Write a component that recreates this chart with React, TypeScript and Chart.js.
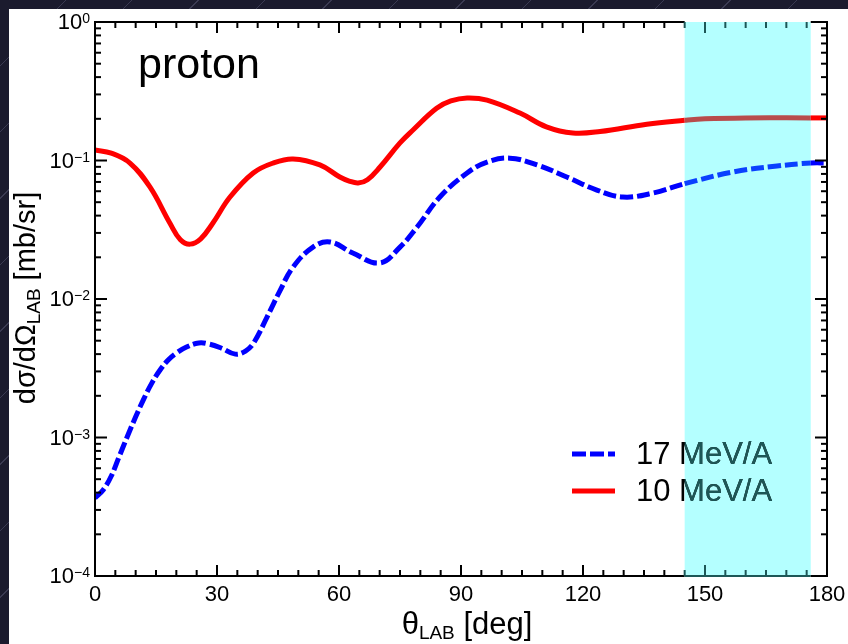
import React, { useEffect, useRef } from 'react';
import { Chart, registerables } from 'chart.js';

Chart.register(...registerables);

// ---- data ----
const angles17 = [0, 2, 4, 6, 8, 10, 12, 14, 16, 18, 20, 22.5, 25.5, 28, 31, 34.5, 37, 39, 42.3, 45.5, 48.7, 53.6, 57.8, 63.4, 70, 75, 79.2, 84.8, 91.5, 96.4, 102, 108.7, 116, 123.4, 129.8, 137.2, 145, 156.9, 167.7, 176, 180];
const sigma17 = [3.66e-4, 4.18e-4, 5.27e-4, 7.35e-4, 1.025e-3, 1.41e-3, 1.9e-3, 2.48e-3, 3.07e-3, 3.63e-3, 4.07e-3, 4.5e-3, 4.81e-3, 4.73e-3, 4.43e-3, 4.0e-3, 4.21e-3, 4.81e-3, 7.4e-3, 0.0115, 0.017, 0.0237, 0.0258, 0.0215, 0.0182, 0.0237, 0.0331, 0.0545, 0.0813, 0.0975, 0.104, 0.0929, 0.076, 0.0612, 0.0545, 0.0582, 0.068, 0.0826, 0.0912, 0.0959, 0.096];

const angles10 = [0, 4, 8.6, 13.5, 18.4, 21, 23.4, 26, 29, 33.2, 38.9, 43.8, 48.7, 55.3, 60.2, 62.5, 64.7, 67, 70.1, 75, 78.2, 84, 87.5, 91.5, 96.4, 104.5, 111, 117.5, 124.2, 135.7, 145, 150, 160, 176, 180];
const sigma10 = [0.119, 0.113, 0.0959, 0.0644, 0.0354, 0.0268, 0.0249, 0.0272, 0.0354, 0.0545, 0.0813, 0.0959, 0.1026, 0.0929, 0.076, 0.0711, 0.0688, 0.0727, 0.0898, 0.134, 0.166, 0.238, 0.269, 0.283, 0.273, 0.22, 0.175, 0.158, 0.162, 0.183, 0.195, 0.2, 0.203, 0.203, 0.203];

const seriesLabels = ['17 MeV/A', '10 MeV/A'];
const bandRange = [145, 176];
const xRange = [0, 180];
const xStep = 30;
const xMinorStep = 5;
const yDecades = [1e-4, 1e-3, 1e-2, 1e-1, 1];
const yExponents = ['−4', '−3', '−2', '−1', '0'];
const panelLabel = 'proton';

// ---- styles ----
const FONT = '"Liberation Sans", Arial, Helvetica, sans-serif';
const RED = '#ff0000';
const RED_IN_BAND = '#b84c4c';
const BLUE = '#0000ff';
const BLUE_IN_BAND = '#0a40ff';
const BAND = '#b4ffff';
const TEAL = '#1d5757';

const inBand = (a: number, b: number) => a >= bandRange[0] - 1e-9 && b <= bandRange[1] + 1e-9;

const bandPlugin = {
  id: 'bandPlugin',
  beforeDatasetsDraw(chart: any) {
    const { ctx, chartArea: a, scales } = chart;
    const x0 = scales.x.getPixelForValue(bandRange[0]);
    const x1 = scales.x.getPixelForValue(bandRange[1]);
    ctx.save();
    ctx.fillStyle = BAND;
    ctx.fillRect(x0, a.top, x1 - x0, a.bottom - a.top);
    ctx.restore();
  },
};

const framePlugin = {
  id: 'framePlugin',
  afterDatasetsDraw(chart: any) {
    const { ctx, chartArea: a, scales } = chart;
    const xs = scales.x;
    const ys = scales.y;
    const bx0 = xs.getPixelForValue(bandRange[0]);
    const bx1 = xs.getPixelForValue(bandRange[1]);
    ctx.save();
    ctx.lineWidth = 2;
    ctx.lineCap = 'butt';
    const line = (x0: number, y0: number, x1: number, y1: number, c: string) => {
      ctx.strokeStyle = c;
      ctx.beginPath();
      ctx.moveTo(x0, y0);
      ctx.lineTo(x1, y1);
      ctx.stroke();
    };
    // frame
    line(a.left, a.top - 1, a.left, a.bottom + 1, '#000');
    line(a.right, a.top - 1, a.right, a.bottom + 1, '#000');
    line(a.left - 1, a.top, bx0, a.top, '#000');
    line(bx1, a.top, a.right + 1, a.top, '#000');
    line(a.left - 1, a.bottom, bx0, a.bottom, '#000');
    line(bx0, a.bottom, bx1, a.bottom, TEAL);
    line(bx1, a.bottom, a.right + 1, a.bottom, '#000');

    // x ticks (top & bottom)
    for (let v = xRange[0] + xMinorStep; v < xRange[1]; v += xMinorStep) {
      const px = xs.getPixelForValue(v);
      const len = v % xStep === 0 ? 11 : 6;
      const c = v >= bandRange[0] && v <= bandRange[1] ? TEAL : '#000';
      line(px, a.bottom, px, a.bottom - len, c);
      line(px, a.top, px, a.top + len, c);
    }
    // y ticks (left & right)
    yDecades.forEach((d, i) => {
      const py = ys.getPixelForValue(d);
      if (i > 0 && i < yDecades.length - 1) {
        line(a.left, py, a.left + 12, py, '#000');
        line(a.right, py, a.right - 12, py, '#000');
      }
      if (i < yDecades.length - 1) {
        for (let m = 2; m <= 9; m++) {
          const pm = ys.getPixelForValue(d * m);
          line(a.left, pm, a.left + 6, pm, '#000');
          line(a.right, pm, a.right - 6, pm, '#000');
        }
      }
    });

    // y tick labels with superscripts
    ctx.fillStyle = '#000';
    yDecades.forEach((d, i) => {
      const py = ys.getPixelForValue(d);
      const xr = a.left - 5;
      ctx.font = `14px ${FONT}`;
      const ws = ctx.measureText(yExponents[i]).width;
      ctx.textAlign = 'left';
      ctx.textBaseline = 'alphabetic';
      ctx.fillText(yExponents[i], xr - ws, py + 1);
      ctx.font = `22px ${FONT}`;
      ctx.textAlign = 'right';
      ctx.textBaseline = 'middle';
      ctx.fillText('10', xr - ws, py + 1);
    });

    // axis titles
    const drawSubTitle = (parts: [string, number, number][], cx: number, cy: number, rot: number) => {
      ctx.save();
      ctx.translate(cx, cy);
      ctx.rotate(rot);
      let total = 0;
      parts.forEach(([t, s]) => {
        ctx.font = `${s}px ${FONT}`;
        total += ctx.measureText(t).width;
      });
      let x = -total / 2;
      ctx.textAlign = 'left';
      ctx.textBaseline = 'alphabetic';
      parts.forEach(([t, s, dy]) => {
        ctx.font = `${s}px ${FONT}`;
        ctx.fillText(t, x, dy);
        x += ctx.measureText(t).width;
      });
      ctx.restore();
    };
    drawSubTitle([['θ', 31, 0], ['LAB', 19, 5], [' [deg]', 31, 0]], (a.left + a.right) / 2 + 6, 625, 0);
    drawSubTitle([['dσ/dΩ', 29, 0], ['LAB', 19, 5], [' [mb/sr]', 29, 0]], 26, 289, -Math.PI / 2);

    // panel label
    ctx.font = `43px ${FONT}`;
    ctx.textAlign = 'left';
    ctx.textBaseline = 'alphabetic';
    ctx.fillStyle = '#000';
    ctx.fillText(panelLabel, a.left + 43, a.top + 56);

    // legend
    const lx0 = a.left + 477;
    const lx1 = a.left + 520;
    const tx = a.left + 541;
    const rows = [a.top + 432, a.top + 469];
    ctx.lineWidth = 5;
    ctx.strokeStyle = BLUE;
    ctx.setLineDash([14, 4]);
    ctx.beginPath();
    ctx.moveTo(lx0, rows[0]);
    ctx.lineTo(lx1, rows[0]);
    ctx.stroke();
    ctx.setLineDash([]);
    ctx.strokeStyle = RED;
    ctx.beginPath();
    ctx.moveTo(lx0, rows[1]);
    ctx.lineTo(lx1, rows[1]);
    ctx.stroke();
    ctx.font = `31px ${FONT}`;
    ctx.textAlign = 'left';
    ctx.textBaseline = 'middle';
    ctx.fillStyle = '#000';
    seriesLabels.forEach((t, i) => ctx.fillText(t, tx, rows[i] + 1));
    ctx.save();
    ctx.beginPath();
    ctx.rect(bx0, a.top, bx1 - bx0, a.bottom - a.top);
    ctx.clip();
    ctx.fillStyle = TEAL;
    seriesLabels.forEach((t, i) => ctx.fillText(t, tx, rows[i] + 1));
    ctx.restore();

    ctx.restore();
  },
};

export default function App() {
  const ref = useRef<HTMLCanvasElement>(null);

  useEffect(() => {
    if (!ref.current) return;
    const chart = new Chart(ref.current, {
      type: 'line',
      data: {
        datasets: [
          {
            label: seriesLabels[0],
            data: angles17.map((a, i) => ({ x: a, y: sigma17[i] })),
            borderColor: BLUE,
            borderWidth: 5,
            borderDash: [13, 4],
            borderCapStyle: 'butt',
            tension: 0.4,
            pointRadius: 0,
            fill: false,
            segment: {
              borderColor: (c: any) => (inBand(c.p0.parsed.x, c.p1.parsed.x) ? BLUE_IN_BAND : BLUE),
            },
          } as any,
          {
            label: seriesLabels[1],
            data: angles10.map((a, i) => ({ x: a, y: sigma10[i] })),
            borderColor: RED,
            borderWidth: 5,
            tension: 0.4,
            pointRadius: 0,
            fill: false,
            segment: {
              borderColor: (c: any) => (inBand(c.p0.parsed.x, c.p1.parsed.x) ? RED_IN_BAND : RED),
            },
          } as any,
        ],
      },
      options: {
        responsive: false,
        animation: false,
        layout: { padding: { top: 13, right: 21, left: 0, bottom: 0 } },
        plugins: { legend: { display: false }, tooltip: { enabled: false } },
        scales: {
          x: {
            type: 'linear',
            min: xRange[0],
            max: xRange[1],
            ticks: {
              stepSize: xStep,
              color: '#000',
              font: { family: FONT, size: 22 },
              padding: 6,
              maxRotation: 0,
              autoSkip: false,
            },
            grid: { display: false, drawTicks: false },
            border: { display: false },
            afterFit: (s: any) => {
              s.height = 68;
              s.paddingLeft = 0;
              s.paddingRight = 0;
            },
          },
          y: {
            type: 'logarithmic',
            min: yDecades[0],
            max: yDecades[yDecades.length - 1],
            ticks: { display: false },
            grid: { display: false, drawTicks: false },
            border: { display: false },
            afterFit: (s: any) => {
              s.width = 86;
              s.paddingTop = 0;
              s.paddingBottom = 0;
            },
          },
        },
      } as any,
      plugins: [bandPlugin, framePlugin],
    });
    return () => chart.destroy();
  }, []);

  return (
    <div
      style={{
        position: 'fixed',
        left: 0,
        top: 0,
        width: 848,
        height: 644,
        background: 'repeating-linear-gradient(135deg, #1b1b2e 0px, #1b1b2e 46px, #3a3a52 46px, #3a3a52 47px)',
        overflow: 'hidden',
      }}
    >
      <div style={{ position: 'absolute', left: 9, top: 9, width: 839, height: 635, background: '#fff' }}>
        <canvas ref={ref} width={839} height={635} style={{ display: 'block' }} />
      </div>
    </div>
  );
}
